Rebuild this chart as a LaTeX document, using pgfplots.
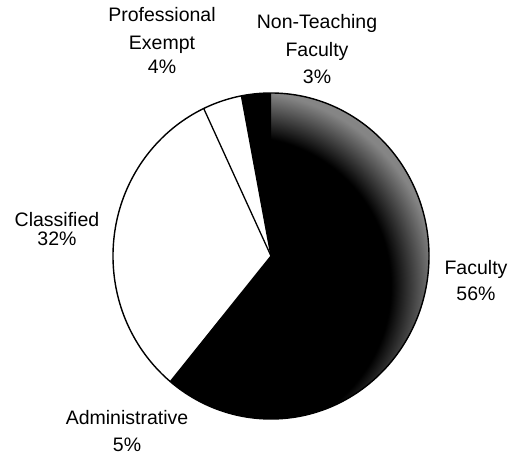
\documentclass[border=0pt]{standalone}
\usepackage{fontspec}
\setmainfont{Liberation Sans}
\usepackage{pgfplots}
\usepackage{pgfplotstable}
\pgfplotsset{compat=1.18}
\pgfplotstableread{
label value
Faculty 56
Administrative 5
Classified 32
ProfessionalExempt 4
NonTeachingFaculty 3
}\piedata
\pgfdeclareradialshading{rimshade}{\pgfpoint{0bp}{0bp}}{color(0bp)=(black); color(15.6bp)=(black); color(20.3bp)=(black!48); color(25bp)=(black!45); color(50bp)=(black!45)}
\begin{document}
\begin{tikzpicture}
\pgfplotstablegetelem{0}{value}\of\piedata \pgfmathsetmacro\vA{\pgfplotsretval}
\pgfplotstablegetelem{1}{value}\of\piedata \pgfmathsetmacro\vB{\pgfplotsretval}
\pgfplotstablegetelem{2}{value}\of\piedata \pgfmathsetmacro\vC{\pgfplotsretval}
\pgfplotstablegetelem{3}{value}\of\piedata \pgfmathsetmacro\vD{\pgfplotsretval}
\pgfplotstablegetelem{4}{value}\of\piedata \pgfmathsetmacro\vE{\pgfplotsretval}
\pgfmathsetmacro\aA{90}
\pgfmathsetmacro\aB{\aA-3.6*\vA}
\pgfmathsetmacro\aC{\aB-3.6*\vB}
\pgfmathsetmacro\aD{\aC-3.6*\vC}
\pgfmathsetmacro\aE{\aD-3.6*\vD}
\pgfmathsetmacro\aF{\aE-3.6*\vE}
\begin{axis}[scale only axis, width=512pt, height=456pt,
  xmin=0, xmax=512, ymin=0, ymax=456, hide axis, clip=false]
% background disc
\fill[black] (axis cs:271,200) ellipse[x radius=158pt, y radius=163pt];
% slices
\fill[black] (axis cs:271,200) -- ++(\aA:158pt and 163pt) arc[start angle=\aA, end angle=\aB, x radius=158pt, y radius=163pt] -- cycle;
\begin{scope}
\clip (axis cs:271,200) -- ++(\aA:158pt and 163pt) arc[start angle=\aA, end angle=\aB, x radius=158pt, y radius=163pt] -- cycle;
\shade[shading=rimshade] (axis cs:241,170) circle[radius=240pt];
\end{scope}
\fill[black] (axis cs:271,200) -- ++(\aB:158pt and 163pt) arc[start angle=\aB, end angle=\aC, x radius=158pt, y radius=163pt] -- cycle;
\fill[white] (axis cs:271,200) -- ++(\aC:158pt and 163pt) arc[start angle=\aC, end angle=\aD, x radius=158pt, y radius=163pt] -- cycle;
\fill[white] (axis cs:271,200) -- ++(\aD:158pt and 163pt) arc[start angle=\aD, end angle=\aE, x radius=158pt, y radius=163pt] -- cycle;
\fill[black] (axis cs:271,200) -- ++(\aE:158pt and 163pt) arc[start angle=\aE, end angle=\aF, x radius=158pt, y radius=163pt] -- cycle;
% outlines
\draw[line width=1.3pt] (axis cs:271,200) -- ++(\aC:158pt and 163pt);
\draw[line width=1.3pt] (axis cs:271,200) -- ++(\aD:158pt and 163pt);
\draw[line width=1.3pt] (axis cs:271,200) -- ++(\aE:158pt and 163pt);
\draw[line width=1.4pt] (axis cs:271,200) ellipse[x radius=158pt, y radius=163pt];
% labels
\begin{scope}[every node/.style={anchor=base, font=\fontsize{19.5}{23}\selectfont, inner sep=0pt}]
\node at (axis cs:162,434) {Professional};
\node at (axis cs:162,406) {Exempt};
\node at (axis cs:162,382) {4\%};
\node at (axis cs:317,427) {Non-Teaching};
\node at (axis cs:317,399) {Faculty};
\node at (axis cs:317,372) {3\%};
\node at (axis cs:57,229) {Classified};
\node at (axis cs:57,210) {32\%};
\node at (axis cs:476,181) {Faculty};
\node at (axis cs:476,156) {56\%};
\node at (axis cs:127,32) {Administrative};
\node at (axis cs:127,5) {5\%};
\end{scope}
\end{axis}
\pgfresetboundingbox
\path[use as bounding box] (0,0) rectangle (512pt,456pt);
\end{tikzpicture}
\end{document}
